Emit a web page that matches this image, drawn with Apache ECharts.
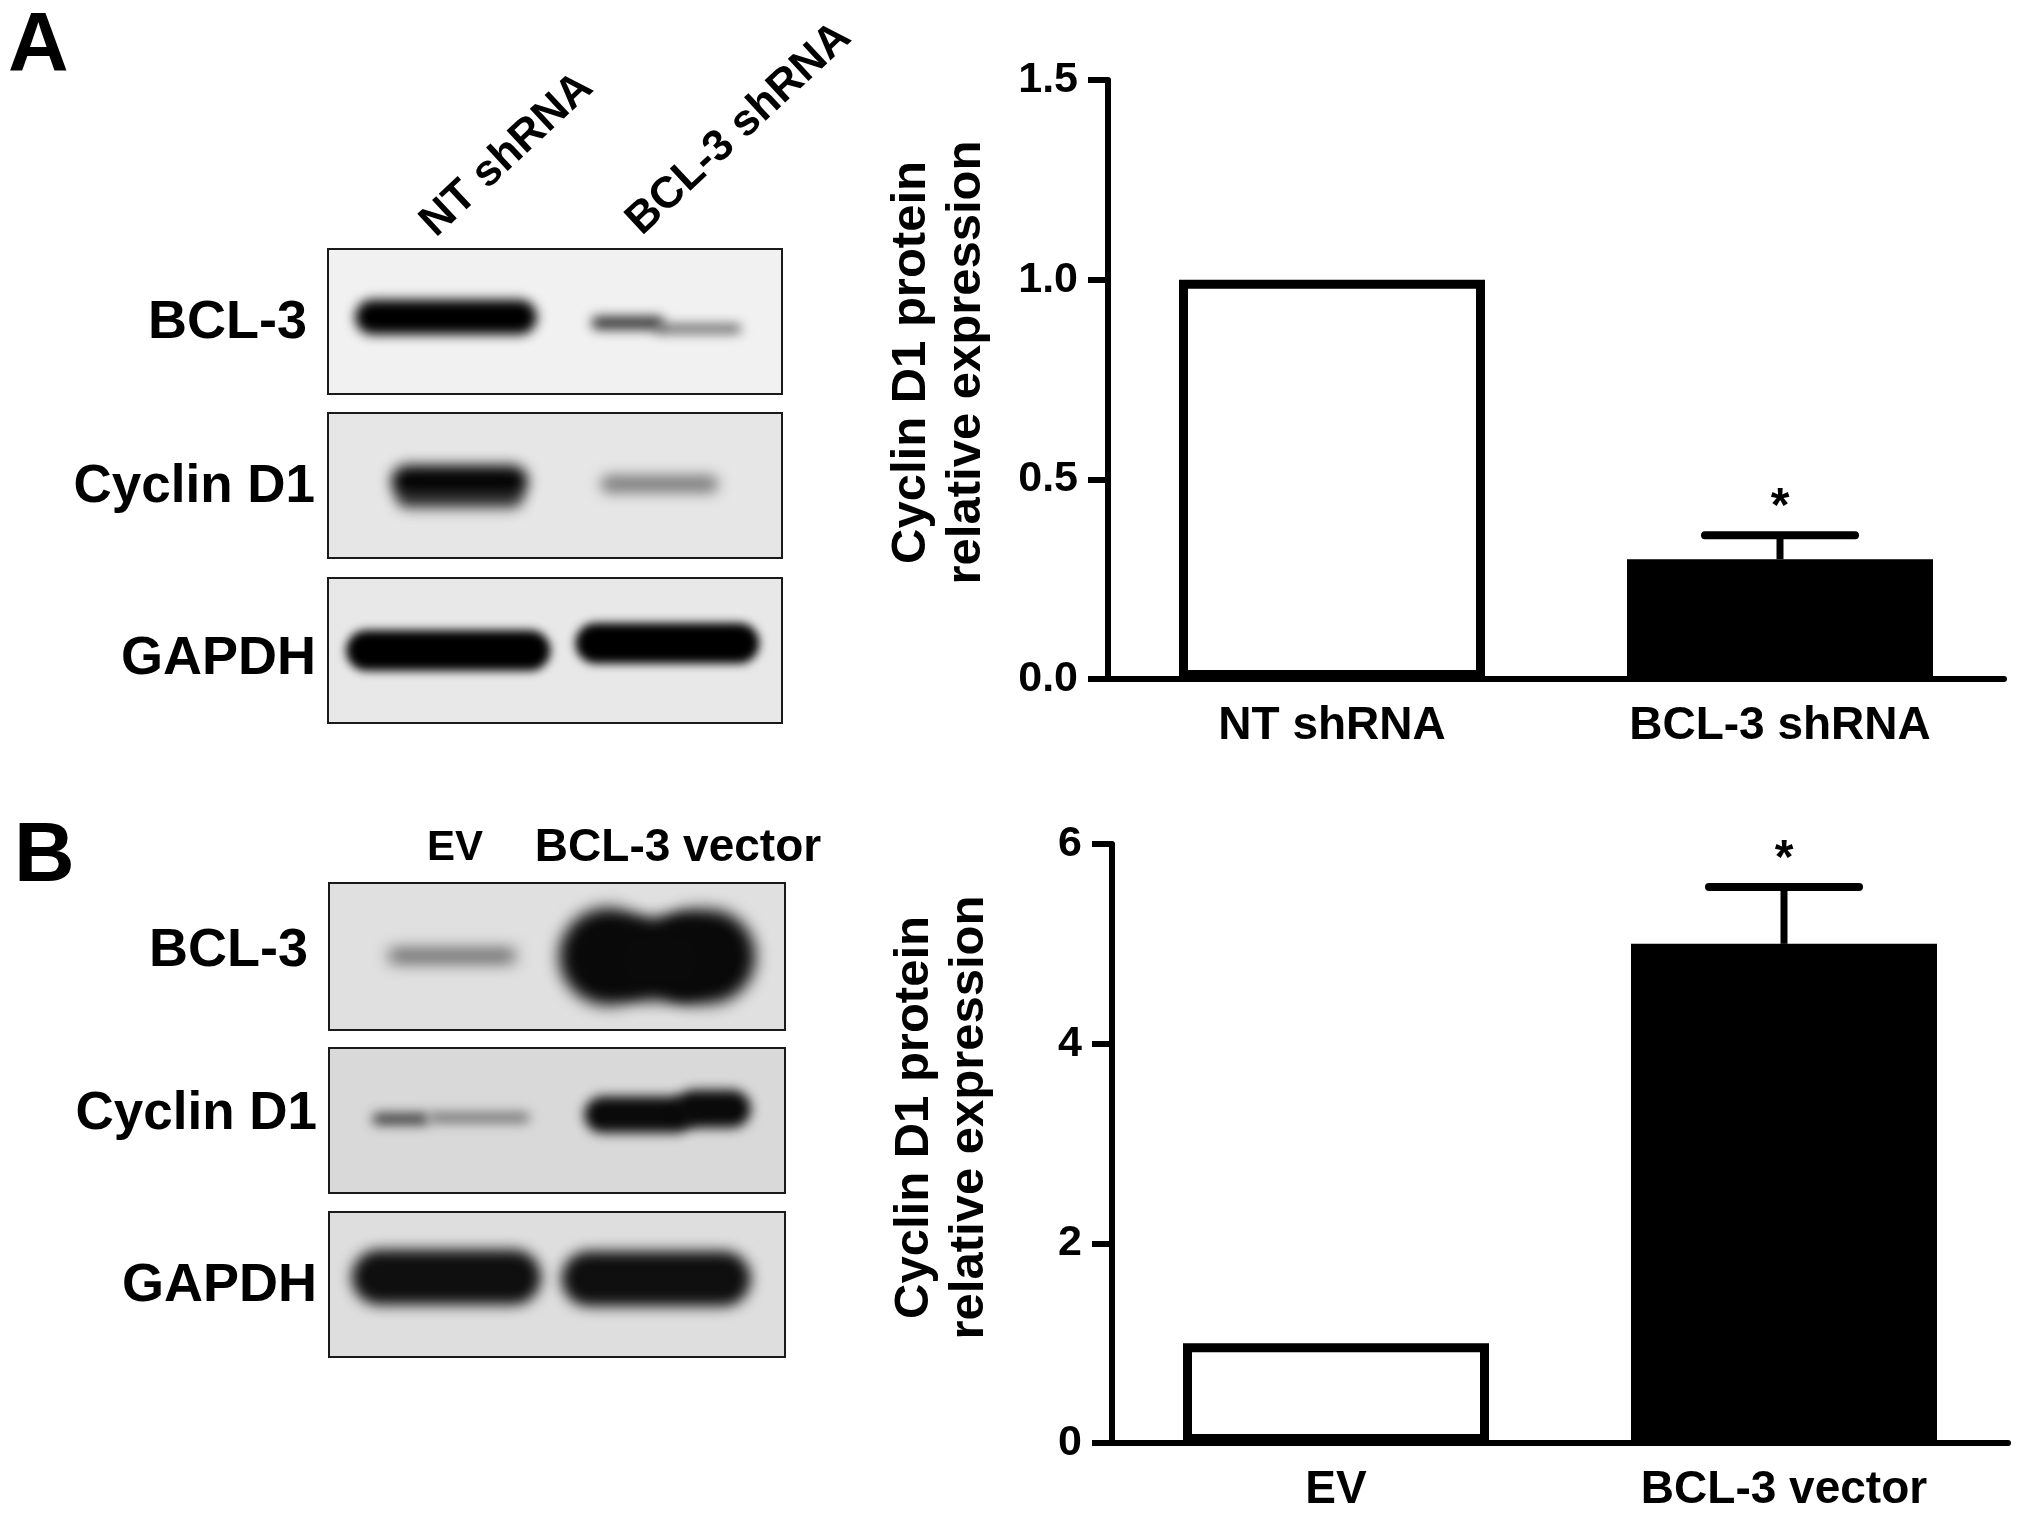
<!DOCTYPE html>
<html>
<head>
<meta charset="utf-8">
<title>Cyclin D1 protein expression</title>
<script src="https://cdn.jsdelivr.net/npm/echarts@6/dist/echarts.min.js"></script>
<style>
  html, body { margin: 0; background: #fff; }
  #myCharts { width: 2031px; height: 1525px; }
</style>
</head>
<body>
<div id="myCharts"></div>
<script>
// bar charts
const categoriesA = ["NT shRNA", "BCL-3 shRNA"];
const valuesA = [1.0, 0.3];
const errorsA = [0, 0.06];
const yTicksA = [0, 0.5, 1.0, 1.5];

const categoriesB = ["EV", "BCL-3 vector"];
const valuesB = [1, 5];
const errorsB = [0, 0.57];
const yTicksB = [0, 2, 4, 6];

// blot bands: lane start, lane end, row centre, row height (% of the panel), grey level
const bandsA1 = [[6, 46, 47, 24, 0], [58, 74, 51, 9, 50], [72, 91, 55, 6, 90]];
const bandsA2 = [[15, 43, 58, 16, 80], [14, 44, 47, 22, 5], [60, 86, 49, 12, 125]];
const bandsA3 = [[4, 49, 50, 28, 0], [54.5, 95, 45, 28, 0]];
const bandsB1 = [[13, 41, 49.5, 9, 85], [50.5, 72, 50, 66, 10], [70, 93.5, 50, 64, 10], [60, 85, 52, 56, 10]];
const bandsB2 = [[9.5, 22, 49, 8, 60], [22, 44, 48, 7, 115], [56, 80, 46, 25, 10], [76, 92.5, 42, 26, 10]];
const bandsB3 = [[5, 46.5, 45, 38, 15], [51, 92.5, 46, 38, 15]];

const blotPanels = [
  { bands: bandsA1, left: 328, top: 249, width: 454, height: 145, bg: "#f1f1f1", blur: 12 },
  { bands: bandsA2, left: 328, top: 413, width: 454, height: 145, bg: "#e6e6e6", blur: 14 },
  { bands: bandsA3, left: 328, top: 578, width: 454, height: 145, bg: "#e8e8e8", blur: 10 },
  { bands: bandsB1, left: 329, top: 883, width: 456, height: 147, bg: "#e0e0e0", blur: 16 },
  { bands: bandsB2, left: 329, top: 1048, width: 456, height: 145, bg: "#d9d9d9", blur: 12 },
  { bands: bandsB3, left: 329, top: 1212, width: 456, height: 145, bg: "#dedede", blur: 14 }
];

const fontName = '"Liberation Sans", Arial, sans-serif';
// the band itself sits off to the side, only its soft shadow lands in the panel
const shadowShift = 4000;

function textItem(text, x, y, size, align, rotation) {
  return {
    type: "text",
    x: x,
    y: y,
    rotation: rotation || 0,
    style: {
      text: text,
      fontSize: size,
      fontWeight: "bold",
      fontFamily: fontName,
      fill: "#000",
      align: align,
      verticalAlign: "middle"
    }
  };
}

function renderBand(params, api) {
  const start = api.coord([api.value(0), api.value(2) - api.value(3) / 2]);
  const end = api.coord([api.value(1), api.value(2) + api.value(3) / 2]);
  const grey = api.value(4);
  const color = "rgb(" + grey + "," + grey + "," + grey + ")";
  return {
    type: "rect",
    shape: {
      x: start[0] - shadowShift,
      y: start[1],
      width: end[0] - start[0],
      height: end[1] - start[1],
      r: (end[1] - start[1]) / 2
    },
    style: {
      fill: color,
      shadowBlur: blotPanels[params.seriesIndex - 4].blur,
      shadowColor: color,
      shadowOffsetX: shadowShift
    }
  };
}

function renderError(params, api) {
  const i = api.value(0);
  if (!api.value(2)) {
    return null;
  }
  const base = api.coord([i, api.value(1)]);
  const top = api.coord([i, api.value(1) + api.value(2)]);
  const lineStyle = { stroke: "#000", lineWidth: 8, lineCap: "round", fill: null };
  return {
    type: "group",
    children: [
      { type: "line", shape: { x1: base[0], y1: base[1], x2: top[0], y2: top[1] }, style: { stroke: "#000", lineWidth: 7, fill: null } },
      { type: "line", shape: { x1: top[0] - 75, y1: top[1], x2: top[0] + 75, y2: top[1] }, style: lineStyle },
      { type: "text", x: top[0], y: top[1] - 27, style: { text: "*", fontSize: 48, fontWeight: "bold", fontFamily: fontName, fill: "#000", align: "center", verticalAlign: "middle" } }
    ]
  };
}

function barData(values) {
  return values.map(function (v, i) {
    return {
      value: v,
      itemStyle: { color: i === 0 ? "#fff" : "#000", borderColor: "#000", borderWidth: 9 }
    };
  });
}

function errorData(values, errors) {
  return values.map(function (v, i) {
    return [i, v, errors[i]];
  });
}

function xAxisOf(gridIndex, categories) {
  return {
    type: "category",
    gridIndex: gridIndex,
    data: categories,
    axisLine: { lineStyle: { color: "#000", width: 6 } },
    axisTick: { alignWithLabel: true, length: 20, lineStyle: { color: "#000", width: 4 } },
    axisLabel: { color: "#000", fontSize: 46, fontWeight: "bold", fontFamily: fontName, margin: 24, interval: 0 }
  };
}

function yAxisOf(gridIndex, ticks, digits, namePad, nameGap) {
  return {
    type: "value",
    gridIndex: gridIndex,
    min: ticks[0],
    max: ticks[ticks.length - 1],
    interval: ticks[1] - ticks[0],
    name: "Cyclin D1 protein\nrelative expression",
    nameLocation: "middle",
    nameGap: nameGap,
    nameRotate: 90,
    nameTextStyle: { color: "#000", fontSize: 49, fontWeight: "bold", fontFamily: fontName, lineHeight: 55, padding: [0, 0, 0, namePad] },
    splitLine: { show: false },
    axisLine: { show: true, lineStyle: { color: "#000", width: 6 } },
    axisTick: { show: true, length: 20, lineStyle: { color: "#000", width: 6 } },
    axisLabel: {
      color: "#000",
      fontSize: 43,
      fontWeight: "bold",
      fontFamily: fontName,
      margin: 30,
      formatter: function (v) { return v.toFixed(digits); }
    }
  };
}

const grids = [
  { left: 1108, top: 80, width: 896, height: 599 },
  { left: 1112, top: 844, width: 896, height: 599 }
];
const xAxes = [xAxisOf(0, categoriesA), xAxisOf(1, categoriesB)];
const yAxes = [yAxisOf(0, yTicksA, 1, 34, 114), yAxisOf(1, yTicksB, 0, 52, 115)];

const series = [
  { type: "bar", xAxisIndex: 0, yAxisIndex: 0, barWidth: 306, data: barData(valuesA) },
  { type: "bar", xAxisIndex: 1, yAxisIndex: 1, barWidth: 306, data: barData(valuesB) },
  { type: "custom", xAxisIndex: 0, yAxisIndex: 0, z: 1, renderItem: renderError, data: errorData(valuesA, errorsA) },
  { type: "custom", xAxisIndex: 1, yAxisIndex: 1, z: 1, renderItem: renderError, data: errorData(valuesB, errorsB) }
];

blotPanels.forEach(function (panel, i) {
  grids.push({
    show: true,
    left: panel.left,
    top: panel.top,
    width: panel.width,
    height: panel.height,
    backgroundColor: panel.bg,
    borderColor: "#1a1a1a",
    borderWidth: 2
  });
  xAxes.push({ type: "value", gridIndex: i + 2, min: 0, max: 100, show: false });
  yAxes.push({ type: "value", gridIndex: i + 2, min: 0, max: 100, inverse: true, show: false });
  series.push({
    type: "custom",
    xAxisIndex: i + 2,
    yAxisIndex: i + 2,
    clip: true,
    renderItem: renderBand,
    data: panel.bands
  });
});

const labels = [
  textItem("A", 8, 48, 84, "left"),
  textItem("B", 14, 858, 84, "left"),
  textItem("NT shRNA", 507, 155, 44, "center", 0.75),
  textItem("BCL-3 shRNA", 739, 129, 44, "center", 0.75),
  textItem("EV", 455, 848, 42, "center"),
  textItem("BCL-3 vector", 678, 848, 46, "center"),
  textItem("BCL-3", 307, 323, 54, "right"),
  textItem("Cyclin D1", 315, 487, 53, "right"),
  textItem("GAPDH", 316, 659, 54, "right"),
  textItem("BCL-3", 308, 951, 54, "right"),
  textItem("Cyclin D1", 317, 1114, 53, "right"),
  textItem("GAPDH", 317, 1286, 54, "right")
];

const myCharts = echarts.init(document.getElementById("myCharts"));
myCharts.setOption({
  animation: false,
  backgroundColor: "#fff",
  grid: grids,
  xAxis: xAxes,
  yAxis: yAxes,
  series: series,
  graphic: { elements: labels }
});
</script>
</body>
</html>
